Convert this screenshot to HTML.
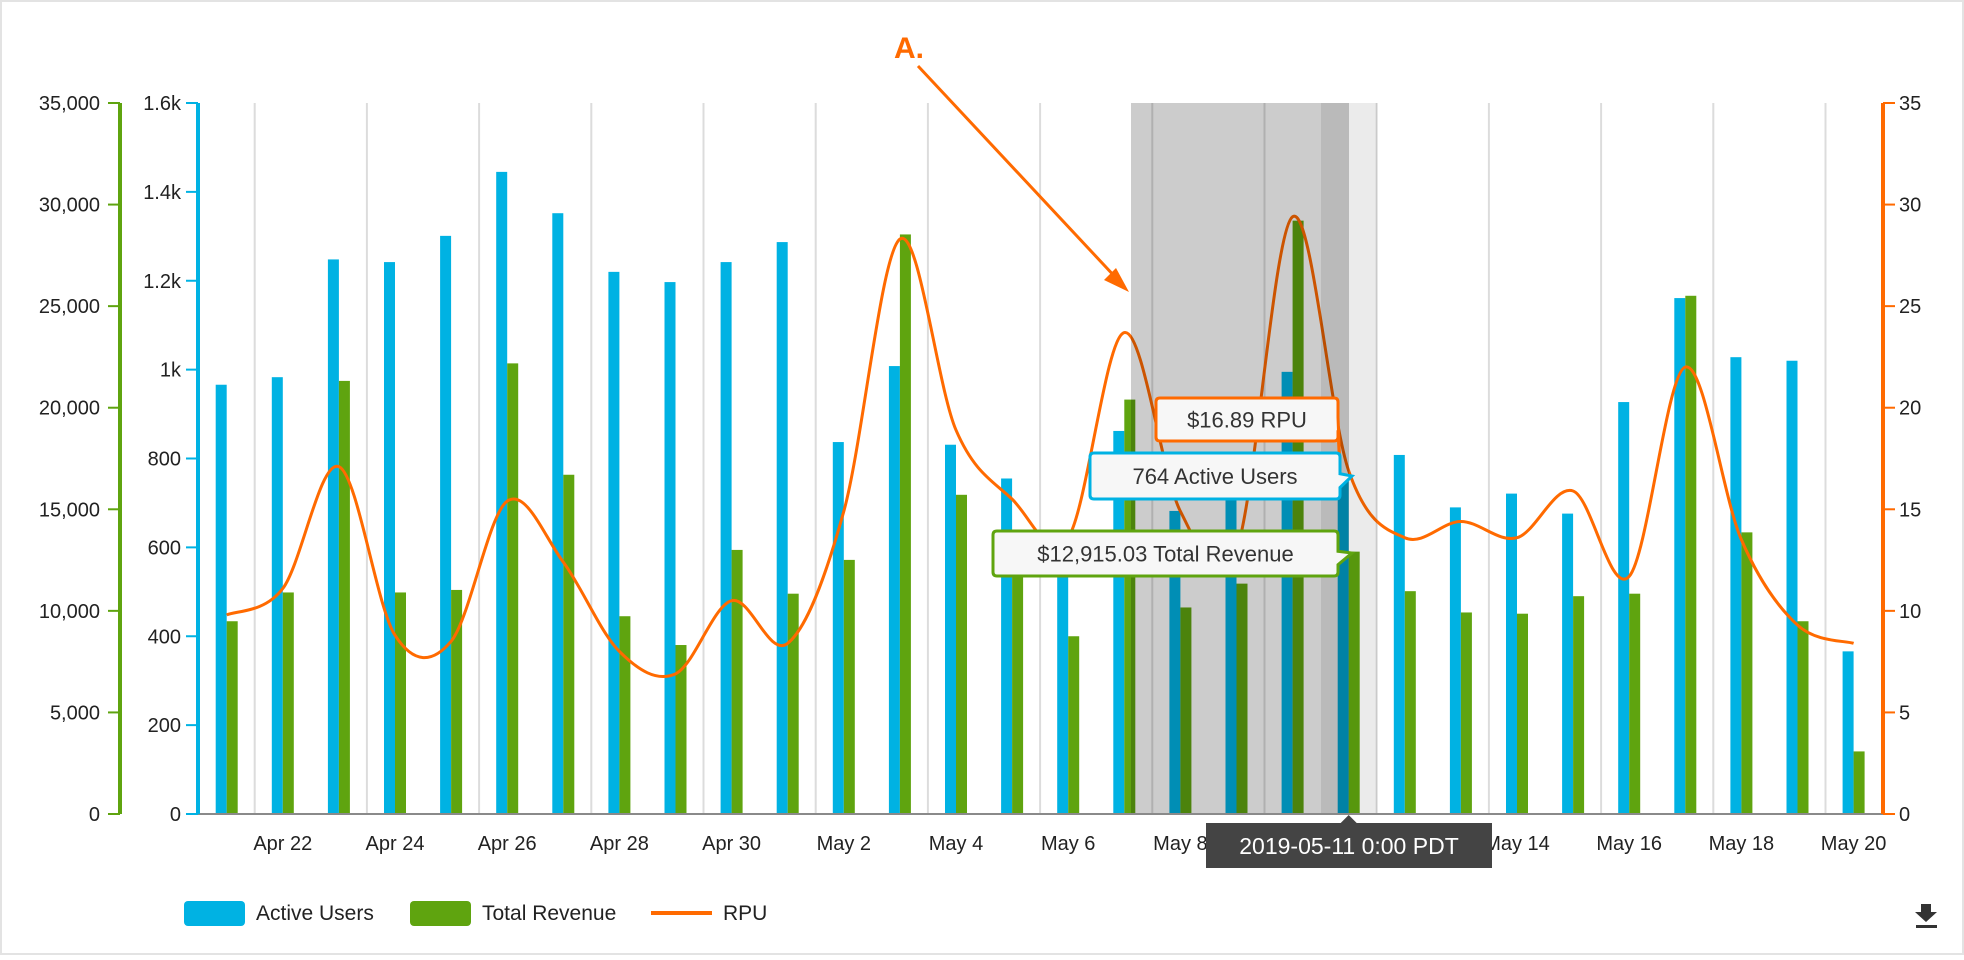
<!DOCTYPE html>
<html><head><meta charset="utf-8">
<style>
html,body{margin:0;padding:0;background:#fff;}
body{width:1964px;height:955px;overflow:hidden;font-family:"Liberation Sans",sans-serif;}
svg text{font-family:"Liberation Sans",sans-serif;}
</style></head>
<body>
<svg id="chart" width="1964" height="955" viewBox="0 0 1964 955" xmlns="http://www.w3.org/2000/svg">
<rect x="1" y="1" width="1962" height="953" fill="#fff" stroke="#e3e3e3" stroke-width="2"/>
<g id="grid"></g>
<g id="bars"></g>
<g id="line"></g>
<g id="shade"></g>
<g id="axes"></g>
<g id="tips"></g>
<g id="legend"></g>
</svg>
<script>
const days = ["Apr 21","Apr 22","Apr 23","Apr 24","Apr 25","Apr 26","Apr 27","Apr 28","Apr 29","Apr 30","May 1","May 2","May 3","May 4","May 5","May 6","May 7","May 8","May 9","May 10","May 11","May 12","May 13","May 14","May 15","May 16","May 17","May 18","May 19","May 20"];
const activeUsers = [966,983,1248,1242,1301,1445,1352,1220,1197,1242,1287,837,1008,831,755,590,862,682,720,995,764,808,690,721,676,927,1161,1028,1020,366];
const totalRevenue = [9489,10906,21320,10906,11030,22183,16700,9736,8318,13000,10845,12509,28530,15713,11700,8750,20400,10167,11340,29208,12915.03,10969,9921,9860,10722,10845,25510,13864,9489,3081];
const rpu = [9.8,11.1,17.1,8.8,8.5,15.4,12.4,8.0,6.9,10.5,8.4,14.9,28.3,18.9,15.5,13.6,23.7,14.9,13.0,29.4,16.89,13.6,14.4,13.6,15.9,11.7,22.0,13.5,9.3,8.4];
const revenueTicks = [0,5000,10000,15000,20000,25000,30000,35000];
const revenueTickLabels = ["0","5,000","10,000","15,000","20,000","25,000","30,000","35,000"];
const userTicks = [0,200,400,600,800,1000,1200,1400,1600];
const userTickLabels = ["0","200","400","600","800","1k","1.2k","1.4k","1.6k"];
const rpuTicks = [0,5,10,15,20,25,30,35];
const highlightIndex = 20;

const NS="http://www.w3.org/2000/svg";
const TOP=103, BOT=814, X0=197, X1=1884;
const BLUE="#00b2e3", GREEN="#5fa40f", ORANGE="#ff6a00";
const xDay = i => 226.7 + 56.1*i;
const yUsers = v => BOT - v/1600*(BOT-TOP);
const yRev = v => BOT - v/35000*(BOT-TOP);
const yRpu = v => BOT - v/35*(BOT-TOP);
function mk(tag, attrs, parent, text){
  const e=document.createElementNS(NS,tag);
  for(const k in attrs) e.setAttribute(k,attrs[k]);
  if(text!==undefined) e.textContent=text;
  parent.appendChild(e); return e;
}
const G=id=>document.getElementById(id);

for(let i=0;i<days.length;i+=2){
  const gx = xDay(i)+28;
  const l=mk('line',{x1:gx,x2:gx,y1:TOP,y2:BOT,stroke:"#dcdcdc","stroke-width":2},G('grid'));
  
  
}
days.forEach((d,i)=>{
  const cx=xDay(i);
  const b=mk('rect',{x:cx-11,y:yUsers(activeUsers[i]),width:11,height:BOT-yUsers(activeUsers[i]),fill:BLUE},G('bars'));
  
  
  const r=mk('rect',{x:cx,y:yRev(totalRevenue[i]),width:11,height:BOT-yRev(totalRevenue[i]),fill:GREEN},G('bars'));
  
  
});
const pts=rpu.map((v,i)=>[xDay(i),yRpu(v)]);
let d="M"+pts[0][0]+","+pts[0][1];
for(let i=0;i<pts.length-1;i++){
  const p0=pts[Math.max(0,i-1)],p1=pts[i],p2=pts[i+1],p3=pts[Math.min(pts.length-1,i+2)];
  const c1=[p1[0]+(p2[0]-p0[0])/6,p1[1]+(p2[1]-p0[1])/6];
  const c2=[p2[0]-(p3[0]-p1[0])/6,p2[1]-(p3[1]-p1[1])/6];
  d+=` C${c1[0]},${c1[1]} ${c2[0]},${c2[1]} ${p2[0]},${p2[1]}`;
}
const ln=mk('path',{d:d,fill:"none",stroke:ORANGE,"stroke-width":3},G('line'));



const s1=mk('rect',{x:1131,y:TOP,width:190,height:BOT-TOP,fill:"rgba(0,0,0,0.2)"},G('shade'));


const s2=mk('rect',{x:1321,y:TOP,width:28,height:BOT-TOP,fill:"rgba(0,0,0,0.27)"},G('shade'));


const s3=mk('rect',{x:1349,y:TOP,width:28,height:BOT-TOP,fill:"rgba(0,0,0,0.08)"},G('shade'));



const A=G('axes');
mk('line',{x1:X0,x2:X1,y1:BOT,y2:BOT,stroke:"#8a8a8a","stroke-width":2},A);
mk('line',{x1:120,x2:120,y1:TOP,y2:BOT,stroke:GREEN,"stroke-width":4},A);
mk('line',{x1:198,x2:198,y1:TOP,y2:BOT,stroke:BLUE,"stroke-width":4},A);
mk('line',{x1:1883,x2:1883,y1:TOP,y2:BOT,stroke:ORANGE,"stroke-width":4},A);
revenueTicks.forEach((v,i)=>{
  const y=yRev(v);
  mk('line',{x1:108,x2:120,y1:y,y2:y,stroke:GREEN,"stroke-width":2},A);
  const t=mk('text',{x:100,y:y+7,"text-anchor":"end","font-size":20,fill:"#222"},A,revenueTickLabels[i]);
  
  
});
userTicks.forEach((v,i)=>{
  const y=yUsers(v);
  mk('line',{x1:186,x2:198,y1:y,y2:y,stroke:BLUE,"stroke-width":2},A);
  const t=mk('text',{x:181,y:y+7,"text-anchor":"end","font-size":20,fill:"#222"},A,userTickLabels[i]);
  
  
});
rpuTicks.forEach(v=>{
  const y=yRpu(v);
  mk('line',{x1:1883,x2:1895,y1:y,y2:y,stroke:ORANGE,"stroke-width":2},A);
  const t=mk('text',{x:1899,y:y+7,"font-size":20,fill:"#222"},A,String(v));
  
  
});
days.forEach((dname,i)=>{
  if(i%2===1){
    const t=mk('text',{x:xDay(i),y:850,"text-anchor":"middle","font-size":20,fill:"#222"},A,dname);
    
    
  }
});

const T=G('tips');
const hx=xDay(highlightIndex);
function tip(x,y,w,h,col,txt,px,py,name){
  const g=mk('g',{},T);
  
  
  mk('path',{d:`M${x+4},${y} H${x+w-4} Q${x+w},${y} ${x+w},${y+4} V${y+h*0.45} L${px},${py} L${x+w},${y+h*0.75} V${y+h-4} Q${x+w},${y+h} ${x+w-4},${y+h} H${x+4} Q${x},${y+h} ${x},${y+h-4} V${y+4} Q${x},${y} ${x+4},${y} Z`,fill:"#f7f7f7",stroke:col,"stroke-width":3},g);
  mk('text',{x:x+w/2,y:y+h/2+8,"text-anchor":"middle","font-size":22,fill:"#333"},g,txt);
}
tip(1156,398,182,43,ORANGE,"$"+rpu[highlightIndex].toFixed(2)+" RPU",1340,yRpu(rpu[highlightIndex]),"rpu-tooltip");
tip(1090,453,250,46,BLUE,activeUsers[highlightIndex]+" Active Users",1352,476,"users-tooltip");
tip(993,531,345,45,GREEN,"$"+totalRevenue[highlightIndex].toLocaleString("en-US",{minimumFractionDigits:2,maximumFractionDigits:2})+" Total Revenue",1352,553,"revenue-tooltip");
const dt=mk('g',{},T);


mk('rect',{x:1206,y:823,width:286,height:45,fill:"#444"},dt);
mk('path',{d:`M${hx-8},823 L${hx},815 L${hx+8},823 Z`,fill:"#444"},dt);
mk('text',{x:1349,y:854,"text-anchor":"middle","font-size":23,fill:"#fff"},dt,"2019-05-11 0:00 PDT");

const an=mk('g',{},T);


mk('text',{x:894,y:58,"font-size":30,"font-weight":"bold",fill:ORANGE},an,"A.");
mk('line',{x1:918,y1:66,x2:1118,y2:280,stroke:ORANGE,"stroke-width":3},an);
mk('path',{d:"M1129,292 L1104,280 L1116,268 Z",fill:ORANGE},an);

const L=G('legend');
function leg(x,w,col,txt,name,isLine){
  const g=mk('g',{},L);
  
  
  if(isLine) mk('rect',{x:x,y:911,width:w,height:4,fill:col},g);
  else mk('rect',{x:x,y:901,width:w,height:25,rx:4,fill:col},g);
  mk('text',{x:x+w+11,y:920,"font-size":21,fill:"#222"},g,txt);
}
leg(184,61,BLUE,"Active Users","legend-active-users",false);
leg(410,61,GREEN,"Total Revenue","legend-total-revenue",false);
leg(651,61,ORANGE,"RPU","legend-rpu",true);
const dl=mk('g',{},L);


mk('path',{d:"M1921,904 H1931 V912 H1937 L1926,922 L1915,912 H1921 Z",fill:"#333"},dl);
mk('rect',{x:1916,y:925,width:21,height:3,fill:"#333"},dl);
</script>
</body></html>
